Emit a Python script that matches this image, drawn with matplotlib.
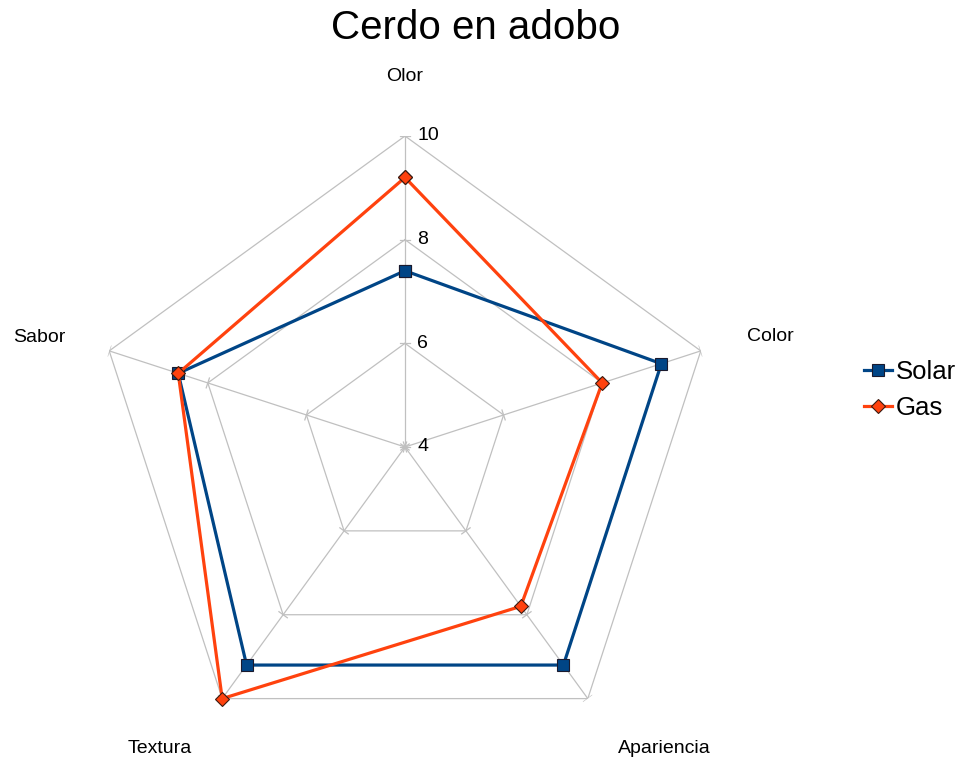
import numpy as np
import matplotlib
matplotlib.use('Agg')
import matplotlib.pyplot as plt

plt.rcParams['font.family'] = ['Liberation Sans', 'DejaVu Sans']

categories = ['Olor', 'Color', 'Apariencia', 'Textura', 'Sabor']
solar = [7.4, 9.2, 9.2, 9.2, 8.6]
gas = [9.2, 8.0, 7.8, 10.0, 8.6]
levels = [4, 6, 8, 10]
rmin, rmax = 4, 10

n = len(categories)
theta = np.arange(n) * 2 * np.pi / n
theta_c = np.append(theta, theta[0])

fig = plt.figure(figsize=(9.66, 7.57), dpi=100)
# axes placed so the centre sits at (405, 447) px with 311 px radius
ax = fig.add_axes([94 / 966, -1 / 757, 622 / 966, 622 / 757], projection='polar')
ax.set_theta_zero_location('N')
ax.set_theta_direction(-1)
ax.set_ylim(rmin, rmax)
ax.grid(False)
for sp in ax.spines.values():
    sp.set_visible(False)
ax.set_xticks([])
ax.set_yticks([])
ax.patch.set_alpha(0)

grid_col = '#c0c0c0'
# pentagon grid
for lv in levels[1:]:
    ax.plot(theta_c, [lv] * (n + 1), color=grid_col, lw=0.9, zorder=1)
# spokes
for t in theta:
    ax.plot([t, t], [rmin, rmax], color=grid_col, lw=0.9, zorder=1)
# small ticks across each spoke
h = 0.1
for t in theta:
    for lv in levels:
        d = lv - rmin
        rr = rmin + np.hypot(d, h)
        da = np.arctan2(h, d)
        ax.plot([t - da, t + da], [rr, rr], color=grid_col, lw=0.9, zorder=1)

# radial labels along the first axis
for lv in levels:
    ax.annotate(str(lv), xy=(0, lv), xytext=(9, 0), textcoords='offset points',
                ha='left', va='center', fontsize=14, color='#000000')

# category labels
label_pos = [(0.0, 11.14), (73.2, 11.36), (139.3, 11.66), (219.1, 11.49), (286.7, 11.37)]
for name, (a, r) in zip(categories, label_pos):
    ax.text(np.deg2rad(a), r, name, ha='center', va='center', fontsize=14,
            color='#000000', clip_on=False)

ax.plot(theta_c, solar + solar[:1], color='#004586', lw=2.3, marker='s',
        markersize=8, markerfacecolor='#004586', markeredgecolor='#1a1a2e',
        markeredgewidth=0.8, label='Solar', zorder=3, clip_on=False)
ax.plot(theta_c, gas + gas[:1], color='#ff420e', lw=2.3, marker='D',
        markersize=7, markerfacecolor='#ff420e', markeredgecolor='#3a1a10',
        markeredgewidth=0.8, label='Gas', zorder=4, clip_on=False)

fig.text(476 / 966, 1 - 28 / 757, 'Cerdo en adobo', ha='center', va='center',
         fontsize=29, color='#000000')

leg = fig.legend(loc='center left', bbox_to_anchor=(864 / 966, 1 - 390 / 757),
                 frameon=False, fontsize=18.5, handlelength=1.1, handletextpad=0.15,
                 labelspacing=0.5, borderaxespad=0, borderpad=0)

fig.savefig('out.png', dpi=100)
